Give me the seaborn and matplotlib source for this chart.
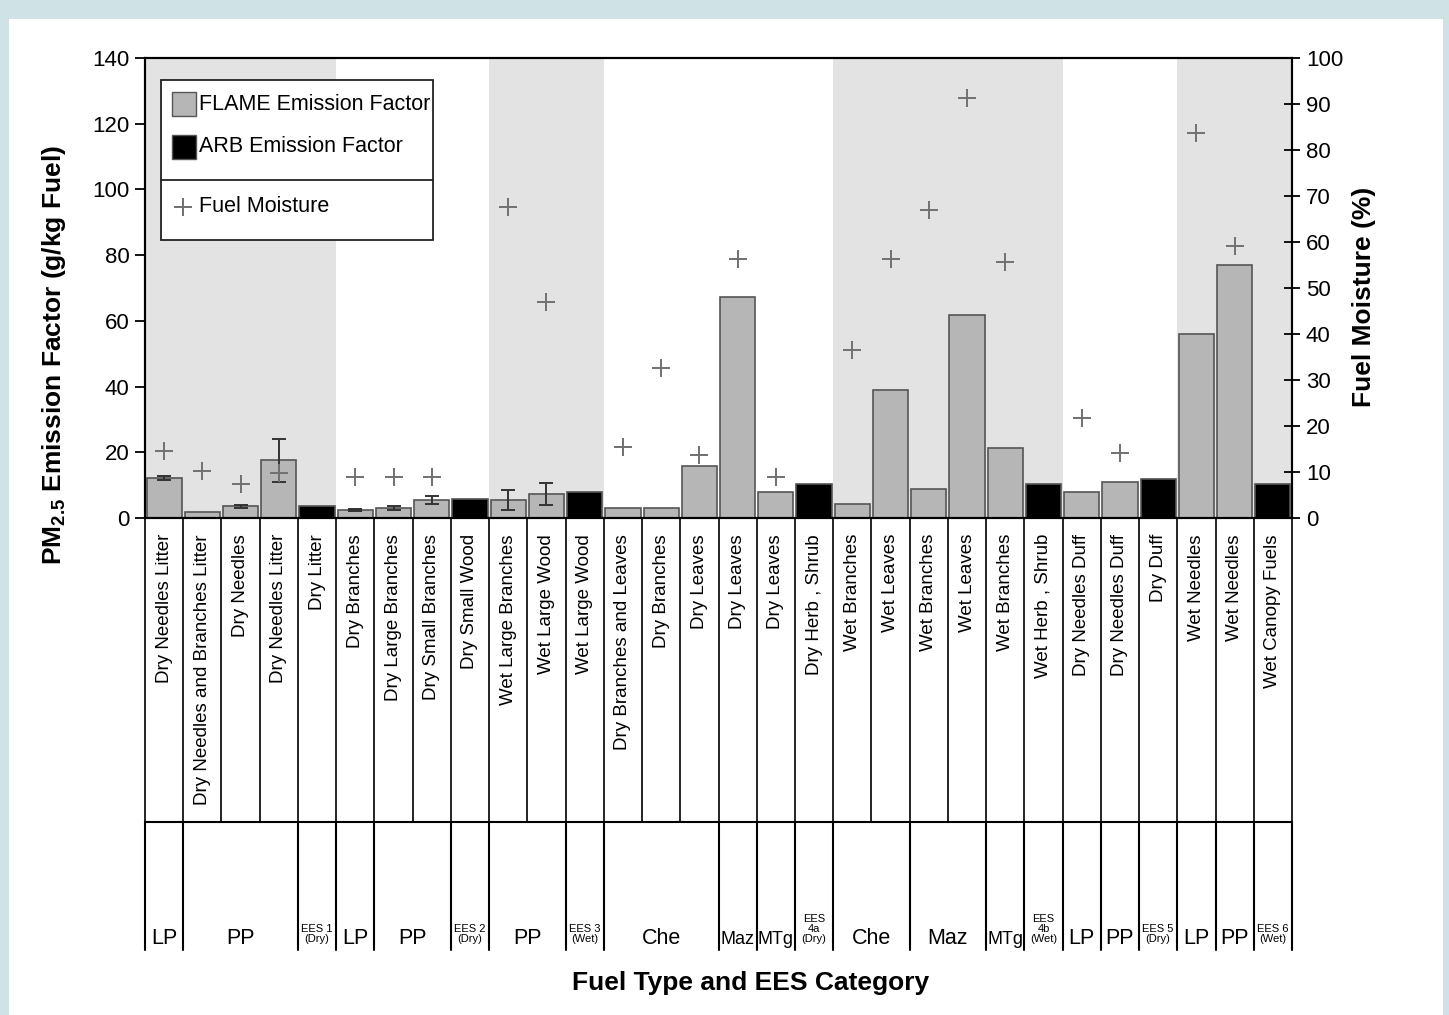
import numpy as np
import pandas as pd
import seaborn as sns
import matplotlib.pyplot as plt
import matplotlib.transforms as mtransforms
from matplotlib.patches import Rectangle
from matplotlib.lines import Line2D

# fuel type labels (one per bar, left to right)
fuel_labels = [
    "Dry Needles Litter", "Dry Needles and Branches Litter", "Dry Needles",
    "Dry Needles Litter", "Dry Litter", "Dry Branches", "Dry Large Branches",
    "Dry Small Branches", "Dry Small Wood", "Wet Large Branches",
    "Wet Large Wood", "Wet Large Wood", "Dry Branches and Leaves",
    "Dry Branches", "Dry Leaves", "Dry Leaves", "Dry Leaves",
    "Dry Herb , Shrub", "Wet Branches", "Wet Leaves", "Wet Branches",
    "Wet Leaves", "Wet Branches", "Wet Herb , Shrub", "Dry Needles Duff",
    "Dry Needles Duff", "Dry Duff", "Wet Needles", "Wet Needles",
    "Wet Canopy Fuels",
]
# PM2.5 emission factor (g/kg fuel)
ef_values = [12.2, 1.7, 3.6, 17.6, 3.8, 2.4, 3.1, 5.5, 5.7, 5.5,
             7.4, 8.0, 3.0, 3.1, 15.8, 67.4, 7.8, 10.5, 4.3, 39.0,
             8.9, 61.8, 21.3, 10.5, 7.9, 11.0, 11.8, 56.1, 77.0, 10.5]
ef_error = [0.6, 0, 0.5, 6.5, 0, 0.4, 0.6, 1.2, 0, 3.1,
            3.3, 0, 0, 0, 0, 0, 0, 0, 0, 0,
            0, 0, 0, 0, 0, 0, 0, 0, 0, 0]
ef_source = ["FLAME", "FLAME", "FLAME", "FLAME", "ARB", "FLAME", "FLAME",
             "FLAME", "ARB", "FLAME", "FLAME", "ARB", "FLAME", "FLAME",
             "FLAME", "FLAME", "FLAME", "ARB", "FLAME", "FLAME", "FLAME",
             "FLAME", "FLAME", "ARB", "FLAME", "FLAME", "ARB", "FLAME",
             "FLAME", "ARB"]
# fuel moisture (%), nan where not measured
moisture = [14.6, 10.3, 7.3, 9.8, np.nan, 9.0, 9.0, 9.0, np.nan, 67.6,
            47.0, np.nan, 15.5, 32.7, 13.7, 56.4, 9.0, np.nan, 36.6, 56.4,
            67.0, 91.3, 55.7, np.nan, 21.7, 14.2, np.nan, 83.7, 59.2, np.nan]

# fuel type / EES category groups (first, last bar)
group_names = ["LP", "PP", "EES 1\n(Dry)", "LP", "PP", "EES 2\n(Dry)", "PP",
               "EES 3\n(Wet)", "Che", "Maz", "MTg", "EES\n4a\n(Dry)", "Che",
               "Maz", "MTg", "EES\n4b\n(Wet)", "LP", "PP", "EES 5\n(Dry)",
               "LP", "PP", "EES 6\n(Wet)"]
group_spans = [(0, 0), (1, 3), (4, 4), (5, 5), (6, 7), (8, 8), (9, 10),
               (11, 11), (12, 14), (15, 15), (16, 16), (17, 17), (18, 19),
               (20, 21), (22, 22), (23, 23), (24, 24), (25, 25), (26, 26),
               (27, 27), (28, 28), (29, 29)]
shade_spans = [(0, 4), (9, 11), (18, 23), (27, 29)]

df = pd.DataFrame({"pos": np.arange(len(fuel_labels)), "ef": ef_values,
                   "err": ef_error, "source": ef_source, "moist": moisture})

sns.set_style("ticks")
plt.rcParams["font.family"] = ["Liberation Sans", "DejaVu Sans"]
plt.rcParams["mathtext.fontset"] = "custom"
plt.rcParams["mathtext.rm"] = "Liberation Sans"
plt.rcParams["mathtext.bf"] = "Liberation Sans:bold"
plt.rcParams["text.color"] = "black"
plt.rcParams["axes.labelcolor"] = "black"
plt.rcParams["xtick.color"] = "black"
plt.rcParams["ytick.color"] = "black"

fig = plt.figure(figsize=(14.49, 10.15), dpi=100)
fig.patch.set_facecolor("#cfe3e7")
fig.add_artist(Rectangle((9 / 1449, 0), 1434 / 1449, 1 - 19 / 1015,
                         transform=fig.transFigure, facecolor="white",
                         edgecolor="none", zorder=-1))

ax = fig.add_axes([145 / 1449, 1 - 518 / 1015, 1147 / 1449, 460 / 1015])

for a, b in shade_spans:
    ax.axvspan(a - 0.5, b + 0.5, color="#e3e3e3", lw=0, zorder=0)

sns.barplot(data=df, x="pos", y="ef", hue="source",
            palette={"FLAME": "#b6b6b6", "ARB": "black"}, dodge=False,
            width=0.92, edgecolor="#555555", linewidth=1.2, errorbar=None,
            legend=False, ax=ax, zorder=2)
eb = df[df.err > 0]
ax.errorbar(eb.pos, eb.ef, yerr=eb.err, fmt="none", ecolor="#333333",
            elinewidth=1.4, capsize=5, capthick=1.4, zorder=3)

ax.set_ylim(0, 140)
ax.set_yticks(np.arange(0, 141, 20))
ax.set_xlim(-0.5, 29.5)
ax.tick_params(axis="x", bottom=False, labelbottom=False)
ax.tick_params(axis="y", direction="out", length=7, width=1.3,
               labelsize=16, pad=4)
for s in ax.spines.values():
    s.set_color("black")
    s.set_linewidth(1.5)

ax2 = ax.twinx()
sns.scatterplot(data=df, x="pos", y="moist", marker="+", s=180,
                color="#707070", linewidth=1.4, ax=ax2, zorder=4)
ax2.set_ylim(0, 100)
ax2.set_yticks(np.arange(0, 101, 10))
ax2.set_xlim(-0.5, 29.5)
ax2.tick_params(axis="y", direction="inout", length=12, width=1.3,
                labelsize=16, pad=4)
ax2.tick_params(axis="x", bottom=False, labelbottom=False)
for s in ax2.spines.values():
    s.set_color("black")
    s.set_linewidth(1.5)

# axis labels
ax.set_ylabel(r"$\mathbf{PM_{2.5}}$ Emission Factor (g/kg Fuel)",
              fontsize=19, fontweight="bold", ha="center", va="center")
ax.yaxis.set_label_coords(-0.079, 0.354)
ax2.set_ylabel("Fuel Moisture (%)", fontsize=19, fontweight="bold",
               rotation=90, ha="center", va="center")
ax2.yaxis.set_label_coords(1.063, 0.48)
ax.set_xlabel("Fuel Type and EES Category", fontsize=19, fontweight="bold",
              va="center")
ax.xaxis.set_label_coords(0.528, -1.011)

# table of fuel labels and groups under the axis
trans = mtransforms.blended_transform_factory(ax.transData, ax.transAxes)
y_mid = (518 - 822) / 460
y_bot = (518 - 950) / 460
for i, lab in enumerate(fuel_labels):
    ax.text(i, -0.035, lab, rotation=90, ha="center", va="top",
            fontsize=13.5, transform=trans, clip_on=False)
for k in range(len(fuel_labels) + 1):
    ax.add_line(Line2D([k - 0.5, k - 0.5], [0, y_mid], color="black",
                       lw=1.2, transform=trans, clip_on=False))
ax.add_line(Line2D([-0.5, 29.5], [y_mid, y_mid], color="black", lw=1.5,
                   transform=trans, clip_on=False))
bounds = sorted({a - 0.5 for a, b in group_spans} | {29.5})
for x in bounds:
    ax.add_line(Line2D([x, x], [y_mid, y_bot], color="black", lw=1.5,
                       transform=trans, clip_on=False))
for name, (a, b) in zip(group_names, group_spans):
    c = (a + b) / 2
    if name.startswith("EES"):
        ax.text(c, -0.925, name, ha="center", va="bottom", fontsize=8,
                linespacing=1.0, transform=trans, clip_on=False)
    else:
        size = 13 if (a == b and name in ("Maz", "MTg")) else 15.5
        ax.text(c, -0.925, name, ha="center", va="baseline", fontsize=size,
                transform=trans, clip_on=False)

# legend box
def fx(px):
    return (px - 145) / 1147


def fy(py):
    return (518 - py) / 460


ax2.add_patch(Rectangle((fx(161), fy(240)), fx(433) - fx(161),
                        fy(80) - fy(240), transform=ax2.transAxes,
                        facecolor="white", edgecolor="#222222", lw=1.3,
                        zorder=5))
ax2.add_line(Line2D([fx(161), fx(433)], [fy(180), fy(180)], color="#222222",
                    lw=1.3, transform=ax2.transAxes, zorder=6))
for py, col, txt in [(104, "#b6b6b6", "FLAME Emission Factor"),
                     (147, "black", "ARB Emission Factor")]:
    ax2.add_patch(Rectangle((fx(172), fy(py + 12)), fx(196) - fx(172),
                            fy(py - 12) - fy(py + 12), transform=ax2.transAxes,
                            facecolor=col, edgecolor="#555555", lw=1,
                            zorder=6))
    ax2.text(fx(199), fy(py), txt, fontsize=15.5, va="center", ha="left",
             transform=ax2.transAxes, zorder=6)
ax2.add_line(Line2D([fx(183)], [fy(207)], marker="+", markersize=13,
                    markeredgewidth=1.4, color="#707070",
                    transform=ax2.transAxes, zorder=6))
ax2.text(fx(199), fy(207), "Fuel Moisture", fontsize=15.5, va="center",
         ha="left", transform=ax2.transAxes, zorder=6)

fig.savefig("out.png", dpi=100, facecolor=fig.get_facecolor())
